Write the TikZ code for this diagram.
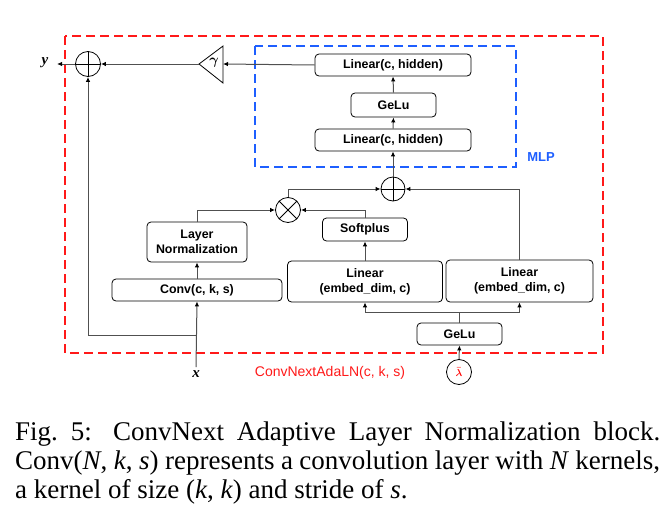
\documentclass[tikz,border=0pt]{standalone}
\usepackage{fontspec}
\usepackage{amsmath,amssymb}
\setmainfont{Liberation Serif}
\newfontfamily\boxfont{Liberation Sans}
\usetikzlibrary{arrows.meta}
\definecolor{mlpblue}{RGB}{30,95,255}
\definecolor{boxred}{RGB}{255,25,25}
\definecolor{wiregray}{RGB}{80,80,80}

\begin{document}
\begin{tikzpicture}[x=1pt,y=-1pt,
  blk/.style={draw, rounded corners=4pt, line width=0.8pt, align=center, inner sep=0pt,
    font=\boxfont\bfseries\fontsize{12.4}{15}\selectfont},
  opc/.style={draw, circle, line width=0.8pt, minimum size=25pt, inner sep=0pt},
  wire/.style={draw=wiregray, line width=1pt, -{Latex[length=5pt,width=4.5pt,color=black]}},
  outerbox/.style={line width=1.6pt, dash pattern=on 9pt off 5pt},
  capline/.style={anchor=base west, inner sep=0pt, font=\fontsize{27}{29}\selectfont}
]
\fill[white] (0,0) rectangle (667,514);
\useasboundingbox (0,0) rectangle (667,514);

% frames
\draw[outerbox, boxred] (65,36) rectangle (603,353);
\draw[outerbox, mlpblue] (255,46) rectangle (516,167);
\node[text=mlpblue, font=\boxfont\bfseries\fontsize{13}{15}\selectfont] (mlp) at (541,157) {MLP};
\node[text=boxred, font=\boxfont\fontsize{14}{16}\selectfont] (blkname) at (330,373) {ConvNextAdaLN(c, k, s)};

% MLP
\node[blk, minimum width=156pt, minimum height=22pt] (mlpT) at (393,65) {Linear(c, hidden)};
\node[blk, minimum width=85pt, minimum height=24pt] (gelu2) at (393.5,105) {GeLu};
\node[blk, minimum width=156pt, minimum height=22pt] (mlpB) at (393,140) {Linear(c, hidden)};

% main branch
\node[blk, minimum width=170pt, minimum height=22pt] (conv) at (197,290) {Conv(c, k, s)};
\node[blk, minimum width=100pt, minimum height=40pt] (LN) at (197,242) {Layer\\Normalization};
\node[blk, minimum width=85pt, minimum height=23pt] (soft) at (365,229.5) {Softplus};
\node[blk, minimum width=155pt, minimum height=41pt] (lin1) at (365,281.5) {Linear\\(embed\_dim, c)};
\node[blk, minimum width=147pt, minimum height=42pt] (lin2) at (519.5,281) {Linear\\(embed\_dim, c)};
\node[blk, minimum width=85pt, minimum height=22pt] (gelu1) at (459.5,334) {GeLu};

% operators
\node[opc] (sumA) at (88,64) {};
\node[opc, minimum size=24pt] (sumB) at (393,189) {};
\node[opc] (mul) at (288,210) {};
\foreach \n in {sumA,sumB}
  \draw[line width=0.8pt] (\n.north) -- (\n.south) (\n.west) -- (\n.east);
\draw[line width=0.8pt] (mul.north west) -- (mul.south east) (mul.north east) -- (mul.south west);

% gain
\node[font=\fontsize{14}{16}\selectfont] (gam) at (214,63) {$\boldsymbol{\gamma}$};
\coordinate (gtip) at (199,64);
\coordinate (gback) at (223,64);
\draw[line width=0.8pt] (gtip) -- (223,46) -- (223,83) -- cycle;

% inputs / outputs
\node[draw, circle, line width=0.8pt, minimum width=25pt, inner sep=0pt] (lam) at (459,372) {\textcolor{red}{$\boldsymbol{\bar{\lambda}}$}};
\node[font=\bfseries\itshape\fontsize{15}{16}\selectfont] (xin) at (196,374) {x};
\node[font=\bfseries\itshape\fontsize{15}{16}\selectfont] (yout) at (45,63) {y};
\coordinate (yend) at (57,64);
\coordinate (skip) at (197,335);
\coordinate (split) at (459.5,312);

% wires
\draw[wire] (xin.north) -- (conv.south);
\draw[wire] (conv) -- (LN);
\draw[wire] (LN.north) |- (mul.west);
\draw[wire] (lam.north) -- (gelu1.south);
\draw[wire,-] (gelu1.north) -- (split);
\draw[wire] (split) -| (lin1.south);
\draw[wire] (split) -| (lin2.south);
\draw[wire] (lin1.north) -- (soft.south);
\draw[wire] (soft.north) |- (mul.east);
\draw[wire] (mul.north) |- (sumB.west);
\draw[wire] (lin2.north) |- (sumB.east);
\draw[wire] (sumB.north) -- (mlpB.south);
\draw[wire] (mlpB.north) -- (gelu2.south);
\draw[wire] (gelu2.north) -- (mlpT.south);
\draw[wire] (mlpT.west) -- (gback);
\draw[wire] (gtip) -- (sumA.east);
\draw[wire] (sumA.west) -- (yend);
\draw[wire] (skip) -| (sumA.south);

% caption
\node[capline] (cap1) at (15,440) {\makebox[645pt][s]{Fig.\ 5: ConvNext Adaptive Layer Normalization block.}};
\node[capline] (cap2) at (15,469.5) {\makebox[645pt][s]{Conv(\textit{N}, \textit{k}, \textit{s}) represents a convolution layer with \textit{N} kernels,}};
\node[capline] (cap3) at (15,498) {a kernel of size (\textit{k}, \textit{k}) and stride of \textit{s}.};

\end{tikzpicture}
\end{document}
